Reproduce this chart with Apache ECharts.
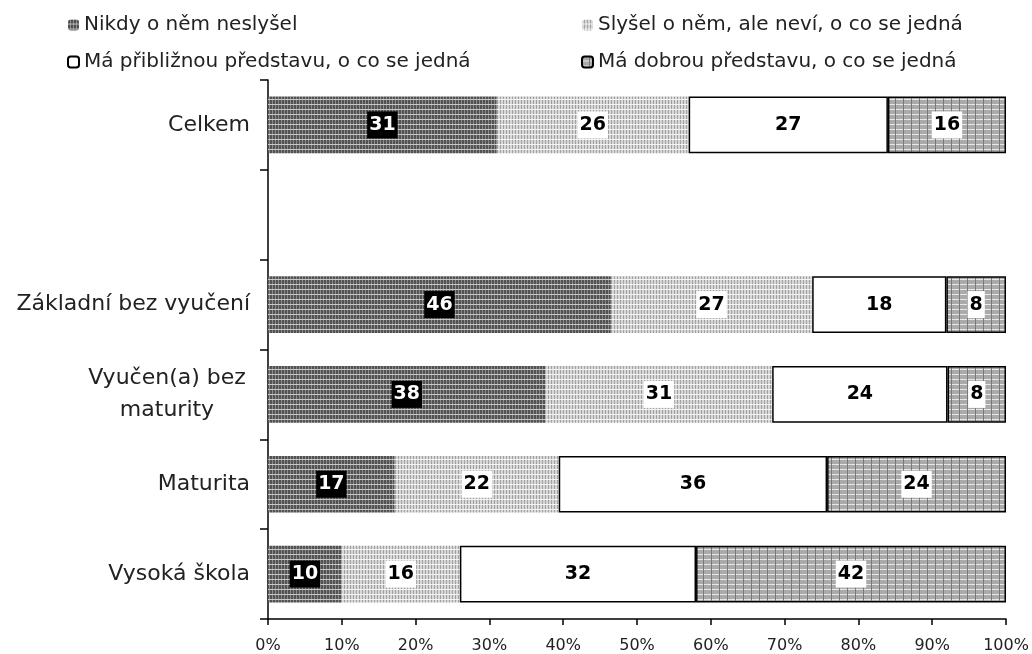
<!DOCTYPE html>
<html>
<head>
<meta charset="utf-8">
<script src="https://cdn.jsdelivr.net/npm/echarts@6/dist/echarts.min.js"></script>
<style>
  html, body { margin: 0; padding: 0; background: #fff; }
  #chart { width: 1032px; height: 654px; }
</style>
</head>
<body>
<div id="chart"></div>
<script>
// data
const categories = ["Celkem", "", "Základní bez vyučení", "Vyučen(a) bez\nmaturity", "Maturita", "Vysoká škola"];
const seriesNames = [
  "Nikdy o něm neslyšel",
  "Slyšel o něm, ale neví, o co se jedná",
  "Má přibližnou představu, o co se jedná",
  "Má dobrou představu, o co se jedná"
];
const nikdy    = [31, null, 46, 38, 17, 10];
const slysel   = [26, null, 27, 31, 22, 16];
const priblizne = [27, null, 18, 24, 36, 32];
const dobrou   = [16, null, 8, 8, 24, 42];
const xTicks = [0, 10, 20, 30, 40, 50, 60, 70, 80, 90, 100];

const FONT = "DejaVu Sans";

function pattern(w, h, draw) {
  const c = document.createElement("canvas");
  c.width = w; c.height = h;
  draw(c.getContext("2d"));
  return { image: c, repeat: "repeat" };
}
const darkFill = pattern(3, 5, ctx => {
  ctx.fillStyle = "#525252"; ctx.fillRect(0, 0, 3, 5);
  ctx.fillStyle = "#8c8c8c"; ctx.fillRect(2, 0, 1, 5);
  ctx.fillStyle = "#c8c8c8"; ctx.fillRect(0, 4, 3, 1);
});
const lightFill = pattern(3, 5, ctx => {
  ctx.fillStyle = "#d8d8d8"; ctx.fillRect(0, 0, 3, 5);
  ctx.fillStyle = "#a0a0a0"; ctx.fillRect(2, 0, 1, 5);
  ctx.fillStyle = "#f4f4f4"; ctx.fillRect(0, 4, 3, 1);
});
const gridFill = pattern(8, 5, ctx => {
  ctx.fillStyle = "#aaaaaa"; ctx.fillRect(0, 0, 8, 5);
  ctx.fillStyle = "#e8e8e8"; ctx.fillRect(0, 4, 8, 1);
  ctx.fillStyle = "#787878"; ctx.fillRect(7, 0, 1, 5);
});

const all = [nikdy, slysel, priblizne, dobrou];
const totals = categories.map((c, i) => all.reduce((s, arr) => s + (arr[i] || 0), 0));
function share(arr) {
  return arr.map((v, i) => v == null ? null : { value: v / totals[i] * 100, raw: v });
}

const labelBase = {
  show: true, position: "inside", fontFamily: FONT, fontSize: 19, fontWeight: "bold",
  formatter: p => p.data && p.data.raw != null ? p.data.raw : ""
};

const styles = [
  { fill: darkFill, border: 0, label: { color: "#fff", backgroundColor: "#000", padding: [5, 2, 3, 2] } },
  { fill: lightFill, border: 0, label: { color: "#000", backgroundColor: "#fff", padding: [5, 2, 3, 2] } },
  { fill: "#fff", border: 1.5, label: { color: "#000" } },
  { fill: gridFill, border: 1.5, label: { color: "#000", backgroundColor: "#fff", padding: [5, 2, 3, 2] } }
];

const series = all.map((arr, k) => ({
  name: seriesNames[k],
  type: "bar",
  stack: "total",
  barWidth: "63%",
  data: share(arr),
  itemStyle: { color: styles[k].fill, borderColor: "#000", borderWidth: styles[k].border },
  label: Object.assign({}, labelBase, styles[k].label),
  silent: true
}));

const yData = categories.map(c => c.indexOf("\n") >= 0
  ? { value: c, textStyle: { align: "center", padding: [0, 166, 0, 0] } }
  : c);

const legendText = { fontFamily: FONT, fontSize: 20, color: "#222" };

const chart = echarts.init(document.getElementById("chart"));
chart.setOption({
  animation: false,
  backgroundColor: "#fff",
  legend: [
    {
      data: [seriesNames[0], seriesNames[2]], left: 62, top: 10, orient: "vertical",
      itemWidth: 11, itemHeight: 11, itemGap: 17, textStyle: legendText
    },
    {
      data: [seriesNames[1], seriesNames[3]], left: 576, top: 10, orient: "vertical",
      itemWidth: 11, itemHeight: 11, itemGap: 17, textStyle: legendText
    }
  ],
  grid: { left: 268, right: 26, top: 80, bottom: 33 },
  xAxis: {
    type: "value", min: 0, max: 100, interval: 10,
    axisLine: { show: true, lineStyle: { color: "#000", width: 1.5 } },
    axisTick: { show: true, length: 6, lineStyle: { color: "#000", width: 1.5 } },
    splitLine: { show: false },
    axisLabel: {
      margin: 19, fontFamily: FONT, fontSize: 16, color: "#222",
      formatter: v => xTicks.indexOf(v) >= 0 ? v + "%" : ""
    }
  },
  yAxis: {
    type: "category", inverse: true, data: yData,
    axisLine: { show: true, lineStyle: { color: "#000", width: 1.5 } },
    axisTick: { show: true, length: 8, lineStyle: { color: "#000", width: 1.5 } },
    axisLabel: { margin: 18, fontFamily: FONT, fontSize: 22, color: "#222", lineHeight: 32 }
  },
  series: series
});
</script>
</body>
</html>
